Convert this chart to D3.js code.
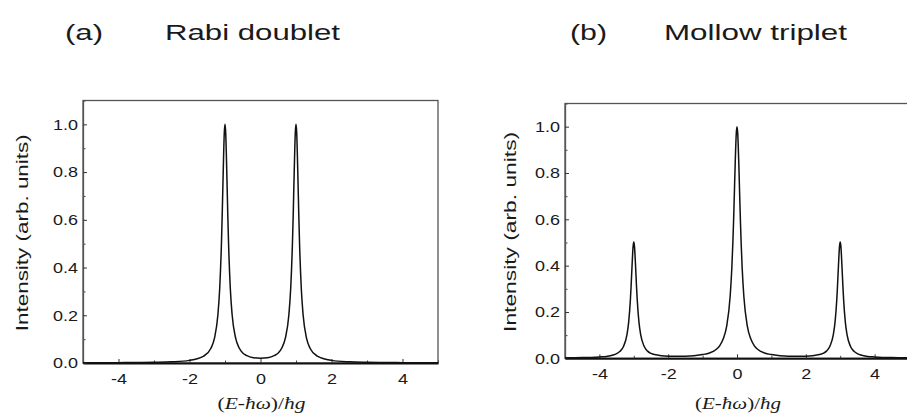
<!DOCTYPE html>
<html>
<head>
<meta charset="utf-8">
<script src="https://cdn.jsdelivr.net/npm/d3@7"></script>
<style>
  body { margin: 0; background: #fff; }
  text { font-family: "Liberation Sans", Arial, sans-serif; fill: #1a1a1a; }
</style>
</head>
<body>
<div id="chart"></div>
<script>
// spectra
let rabiX = [-5, -4, -3, -2.5, -2, -1.6, -1.4, -1.3, -1.2, -1.15, -1.1, -1.08, -1.05, -1.02, -1, -0.98, -0.95, -0.92, -0.9, -0.85, -0.8, -0.7, -0.6, -0.5, -0.4, -0.2,
    0, 0.2, 0.4, 0.5, 0.6, 0.7, 0.8, 0.85, 0.9, 0.92, 0.95, 0.98, 1, 1.02, 1.05, 1.08, 1.1, 1.15, 1.2, 1.3, 1.4, 1.6, 2, 2.5, 3, 4, 5];
let rabiY = [0.001, 0.0015, 0.003, 0.005, 0.011, 0.029, 0.061, 0.102, 0.202, 0.31, 0.502, 0.612, 0.802, 0.964, 1.0, 0.964, 0.802, 0.612, 0.503, 0.311, 0.203, 0.104, 0.063, 0.042, 0.032, 0.022,
    0.020, 0.022, 0.032, 0.042, 0.063, 0.104, 0.203, 0.311, 0.503, 0.612, 0.802, 0.964, 1.0, 0.964, 0.802, 0.612, 0.502, 0.31, 0.202, 0.102, 0.061, 0.029, 0.011, 0.005, 0.003, 0.0015, 0.001];

let mollowX = [-5, -4.5, -4, -3.8, -3.6, -3.5, -3.4, -3.3, -3.2, -3.15, -3.1, -3.08, -3.05, -3.02, -3, -2.98, -2.95, -2.92, -2.9, -2.85,
    -2.8, -2.7, -2.6, -2.5, -2.4, -2, -1.5, -1, -0.8, -0.6, -0.5, -0.4, -0.3, -0.2, -0.15, -0.12, -0.1, -0.08, -0.05, -0.02,
    0, 0.02, 0.05, 0.08, 0.1, 0.12, 0.15, 0.2, 0.3, 0.4, 0.5, 0.6, 0.8, 1, 1.5, 2, 2.4, 2.5, 2.6, 2.7, 2.8,
    2.85, 2.9, 2.92, 2.95, 2.98, 3, 3.02, 3.05, 3.08, 3.1, 3.15, 3.2, 3.3, 3.4, 3.5, 3.6, 3.8, 4, 4.5, 5];
let mollowY = [0.002, 0.003, 0.006, 0.008, 0.014, 0.02, 0.03, 0.051, 0.101, 0.155, 0.251, 0.307, 0.402, 0.483, 0.502, 0.483, 0.402, 0.307, 0.252, 0.156,
    0.102, 0.052, 0.031, 0.021, 0.016, 0.009, 0.009, 0.016, 0.023, 0.039, 0.055, 0.084, 0.139, 0.266, 0.391, 0.501, 0.591, 0.693, 0.853, 0.973,
    1.0, 0.973, 0.853, 0.693, 0.591, 0.501, 0.391, 0.266, 0.139, 0.084, 0.055, 0.039, 0.023, 0.016, 0.009, 0.009, 0.016, 0.021, 0.031, 0.052, 0.102,
    0.156, 0.252, 0.307, 0.402, 0.483, 0.502, 0.483, 0.402, 0.307, 0.251, 0.155, 0.101, 0.051, 0.03, 0.02, 0.014, 0.008, 0.006, 0.003, 0.002];

let xTicks = [-4, -2, 0, 2, 4];
let xMinor = [-5, -3, -1, 1, 3, 5];
let yTicks = [0, 0.2, 0.4, 0.6, 0.8, 1.0];
let yMinor = [0.1, 0.3, 0.5, 0.7, 0.9, 1.1];

let xDomain = [-5, 5];
let yDomain = [0, 1.1];

let svgWidth = 907;
let svgHeight = 417;

let svg = d3.select("#chart")
    .append("svg")
    .attr("width", svgWidth)
    .attr("height", svgHeight);

// panel boxes
let panels = [
    { xs: rabiX, ys: rabiY, left: 83, right: 438, top: 100.5, bottom: 363,
      tag: "(a)", tagX: 65, tagW: 38, title: "Rabi doublet", titleX: 165, titleW: 175,
      yLabX: 22, yLabW: 197, xLabW: 88 },
    { xs: mollowX, ys: mollowY, left: 565, right: 909, top: 103.5, bottom: 358.3,
      tag: "(b)", tagX: 570, tagW: 37, title: "Mollow triplet", titleX: 664, titleW: 183,
      yLabX: 510, yLabW: 200, xLabW: 86 }
];

// tick labels look wider than plain Arial
let stretchX = 1.2;

panels.forEach(function(p) {
    let x = d3.scaleLinear().domain(xDomain).range([p.left, p.right]);
    let y = d3.scaleLinear().domain(yDomain).range([p.bottom, p.top]);

    // frame
    svg.append("rect")
        .attr("x", p.left)
        .attr("y", p.top)
        .attr("width", p.right - p.left)
        .attr("height", p.bottom - p.top)
        .attr("fill", "none")
        .attr("stroke", "#555")
        .attr("stroke-width", 1.3);

    // minor ticks
    svg.append("g")
        .attr("transform", `translate(0,${p.bottom})`)
        .call(d3.axisBottom(x).tickValues(xMinor).tickSize(-2.5).tickFormat(""))
        .call(g => g.select(".domain").remove())
        .selectAll("line").attr("stroke", "#444");

    svg.append("g")
        .attr("transform", `translate(${p.left},0)`)
        .call(d3.axisLeft(y).tickValues(yMinor).tickSize(-2.5).tickFormat(""))
        .call(g => g.select(".domain").remove())
        .selectAll("line").attr("stroke", "#444");

    // major axes
    let xAxis = svg.append("g")
        .attr("transform", `translate(0,${p.bottom})`)
        .call(d3.axisBottom(x).tickValues(xTicks).tickSize(-4).tickPadding(10)
            .tickSizeOuter(0).tickFormat(d => String(d)));
    xAxis.select(".domain").attr("stroke", "#111").attr("stroke-width", 2);
    xAxis.selectAll("line").attr("stroke", "#333");
    xAxis.selectAll("text")
        .attr("font-size", 15)
        .attr("transform", `scale(${stretchX},1)`);

    let yAxis = svg.append("g")
        .attr("transform", `translate(${p.left},0)`)
        .call(d3.axisLeft(y).tickValues(yTicks).tickSize(-4).tickPadding(5)
            .tickSizeOuter(0).tickFormat(d3.format(".1f")));
    yAxis.select(".domain").attr("stroke", "#555").attr("stroke-width", 1.3);
    yAxis.selectAll("line").attr("stroke", "#333");
    yAxis.selectAll("text")
        .attr("font-size", 15)
        .attr("x", -5 / stretchX)
        .attr("transform", `scale(${stretchX},1)`);

    // spectrum
    let pts = p.xs.map((v, i) => [v, p.ys[i]]);
    let line = d3.line()
        .x(d => x(d[0]))
        .y(d => y(d[1]))
        .curve(d3.curveMonotoneX);

    svg.append("path")
        .datum(pts)
        .attr("d", line)
        .attr("fill", "none")
        .attr("stroke", "#111")
        .attr("stroke-width", 1.5);

    // titles
    svg.append("text")
        .attr("x", p.tagX)
        .attr("y", 40)
        .attr("font-size", 22)
        .attr("textLength", p.tagW)
        .attr("lengthAdjust", "spacingAndGlyphs")
        .text(p.tag);

    svg.append("text")
        .attr("x", p.titleX)
        .attr("y", 40)
        .attr("font-size", 22)
        .attr("textLength", p.titleW)
        .attr("lengthAdjust", "spacingAndGlyphs")
        .text(p.title);

    // axis labels
    let cy = (p.top + p.bottom) / 2 + 1;
    svg.append("text")
        .attr("transform", `translate(${p.yLabX + 6},${cy}) rotate(-90)`)
        .attr("text-anchor", "middle")
        .attr("font-size", 17)
        .attr("textLength", p.yLabW)
        .attr("lengthAdjust", "spacingAndGlyphs")
        .text("Intensity (arb. units)");

    let xl = svg.append("text")
        .attr("x", (p.left + p.right) / 2 + 1)
        .attr("y", 409)
        .attr("text-anchor", "middle")
        .attr("font-size", 17)
        .attr("textLength", p.xLabW)
        .attr("lengthAdjust", "spacingAndGlyphs")
        .style("font-family", "'Liberation Serif', 'Times New Roman', serif")
        .style("font-style", "italic");
    xl.append("tspan").style("font-style", "normal").text("(");
    xl.append("tspan").text("E");
    xl.append("tspan").style("font-style", "normal").text("-");
    xl.append("tspan").text("ħω");
    xl.append("tspan").style("font-style", "normal").text(")/");
    xl.append("tspan").text("ħg");
});
</script>
</body>
</html>
